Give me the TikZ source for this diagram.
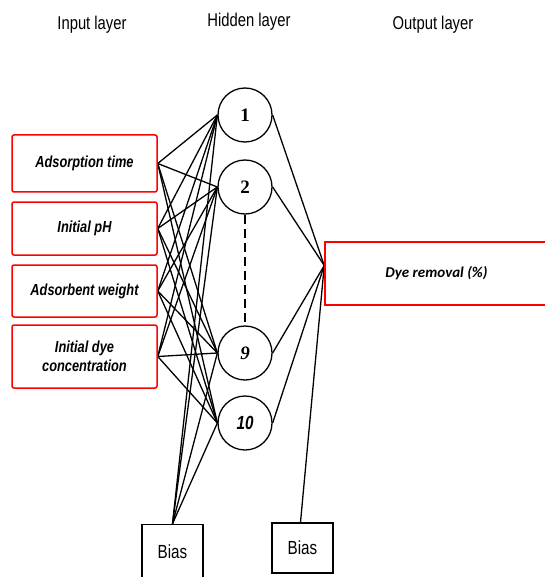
\documentclass[tikz,border=0pt]{standalone}
\usepackage{fontspec}
\setmainfont{Liberation Sans}[FakeStretch=0.8]
\newfontfamily\numfont{Liberation Serif}
\newfontfamily\outfont{Carlito}
\usetikzlibrary{positioning,calc,backgrounds}

\begin{document}
\begin{tikzpicture}[x=1pt, y=-1pt,
    inbox/.style={draw=red, line width=1.5pt, rounded corners=2pt, minimum width=145pt,
        align=center, font=\fontsize{16}{19}\selectfont\bfseries\itshape},
    hid/.style={draw, circle, line width=1.3pt, minimum size=54pt, inner sep=0pt, fill=white},
    biasbox/.style={draw, line width=1.5pt, minimum width=61pt, font=\fontsize{19}{22}\selectfont},
    layer/.style={font=\fontsize{18.5}{20}\selectfont},
    wire/.style={line width=1.3pt}]
    \useasboundingbox (0,0) rectangle (544,577);
    % layer titles
    \node[layer] (tin) at (92,25) {Input layer};
    \node[layer] (thid) at (249,22) {Hidden layer};
    \node[layer] (tout) at (433,25) {Output layer};
    % inputs
    \foreach \i/\y/\h/\txt in {1/163.5/57/Adsorption time, 2/228.5/53/Initial pH,
            3/291/52/Adsorbent weight, 4/356.5/63/{Initial dye\\concentration}}
        \node[inbox, minimum height=\h pt] (in\i) at (84.5,\y) {\txt};
    % hidden neurons
    \foreach \n/\y/\txt in {1/115/\numfont\bfseries 1, 2/187/\numfont\bfseries 2,
            9/353/\numfont\bfseries\itshape 9, 10/423/\bfseries\itshape 10}
        \node[hid, font=\fontsize{19}{22}\selectfont] (h\n) at (245,\y) {\txt};
    % output
    \node[draw=red, line width=1.5pt, minimum width=223pt, minimum height=63pt,
        font=\outfont\fontsize{15}{18}\selectfont\bfseries\itshape] (out) at (436.5,273.5) {Dye removal (\%)};
    \coordinate (join) at ([yshift=8pt]out.west);
    % biases
    \node[biasbox, minimum height=55pt] (bias1) at (172.5,552) {Bias};
    \node[biasbox, minimum height=50pt] (bias2) at (302.5,548) {Bias};
    % connections
    \begin{scope}[on background layer]
        \foreach \n in {1,2,9,10} {
            \foreach \i in {1,...,4}
                \draw[wire] (in\i.east) -- (h\n.west);
            \draw[wire] (bias1.north) -- (h\n.west);
            \draw[wire] (h\n.east) -- (join);
        }
        \draw[wire] ([xshift=-2pt]bias2.north) -- (join);
    \end{scope}
    \draw[wire, dash pattern=on 9pt off 5pt] (h2) -- (h9);
\end{tikzpicture}
\end{document}
